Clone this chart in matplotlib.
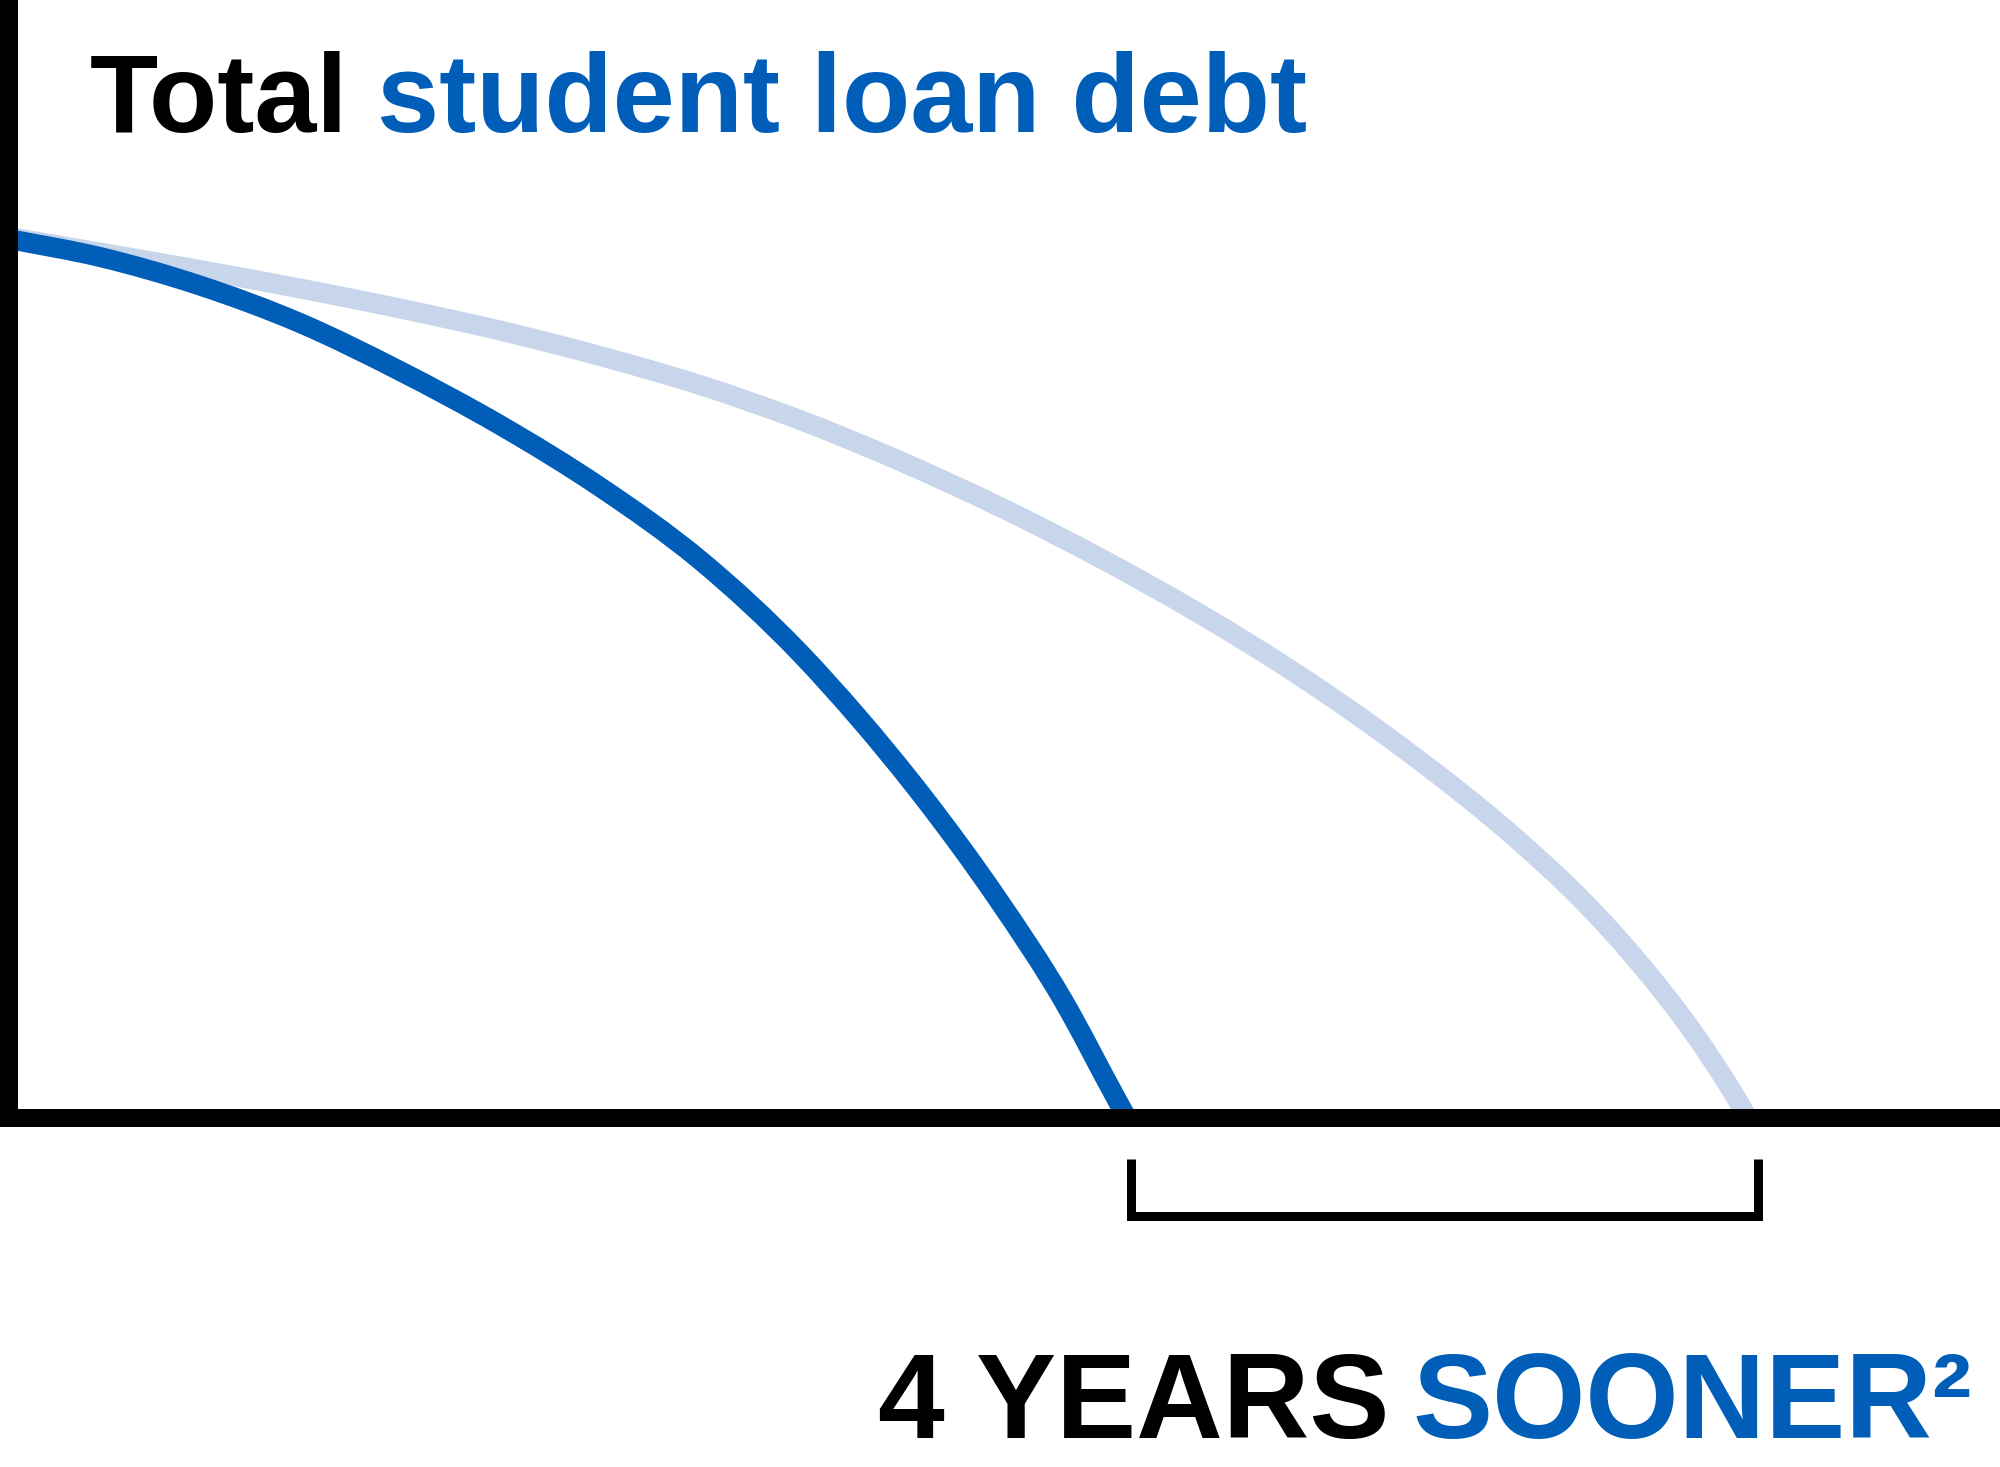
"""
Repayment chart: total student loan debt, faster payoff vs standard payoff
"""
# ###
# 1.Import packages
# ###
import matplotlib
matplotlib.use('Agg')
import matplotlib.pyplot as plt
from matplotlib.path    import Path
from matplotlib.patches import PathPatch

# ###
# 2.Const variables
# ###
# Data: years since start of repayment, debt as % of the starting balance
YEARS_FAST = [0.00, 0.578, 1.213, 1.848, 2.483, 3.117, 3.752, 4.387, 5.022,
              5.384, 5.810, 6.273, 6.692, 7.035, 7.098]
DEBT_FAST  = [100.0, 97.95, 94.70, 90.44, 84.98, 78.84, 71.79, 63.48, 52.90,
              45.73, 36.40, 25.03, 13.42, 2.05, 0.0]

YEARS_STD  = [0.00, 0.578, 1.213, 1.848, 2.483, 3.117, 3.752, 4.387, 5.022, 5.657,
              6.292, 6.927, 7.562, 8.197, 8.832, 9.594, 9.994, 10.356, 10.692, 10.978, 11.041]
DEBT_STD   = [100.23, 98.46, 96.47, 94.37, 92.09, 89.59, 86.69, 83.39, 79.41, 74.74,
              69.51, 63.71, 57.34, 50.28, 42.32, 31.40, 24.69, 17.52, 9.78, 1.93, 0.0]

# Bracket under the x-axis (the 4 year gap)
BRACKET_X = [7.127, 11.102]
BRACKET_Y = [-4.66, -11.09]

# Text
TITLE_BLACK  = 'Total'
TITLE_BLUE   = 'student loan debt'
FOOTER_BLACK = '4 YEARS'
FOOTER_BLUE  = 'SOONER\u00b2'

# Color
COLOR_BLACK = '#000000'
COLOR_BLUE  = '#005EB8'
COLOR_LIGHT = '#C7D6EB'

# Plot
PLOT_X_SIZE = 20.0
PLOT_Y_SIZE = 14.67
PLOT_DPI    = 100
LINE_WIDTH  = 14.4
FONT_FAMILY = ['Liberation Sans', 'DejaVu Sans']

# Axes range (data units)
X_MIN, X_MAX = -0.0571, 12.6413
Y_MIN, Y_MAX = -39.70, 127.19


# ###
# 3.Define functions
# ###
def smooth_path(xs, ys):
    # Cubic hermite through the read points (tangents from neighbours), as bezier segments
    n = len(xs)
    h = [xs[i + 1] - xs[i] for i in range(n - 1)]
    d = [(ys[i + 1] - ys[i]) / h[i] for i in range(n - 1)]
    m = [d[0]]
    for i in range(1, n - 1):
        m.append((d[i - 1] * h[i] + d[i] * h[i - 1]) / (h[i - 1] + h[i]))
    m.append(d[-1])

    verts = [(xs[0], ys[0])]
    codes = [Path.MOVETO]
    for i in range(n - 1):
        t = h[i] / 3.0
        verts += [(xs[i] + t, ys[i] + t * m[i]),
                  (xs[i + 1] - t, ys[i + 1] - t * m[i + 1]),
                  (xs[i + 1], ys[i + 1])]
        codes += [Path.CURVE4, Path.CURVE4, Path.CURVE4]
    return Path(verts, codes)


def draw_curve(ax, xs, ys, color, zorder):
    patch = PathPatch(smooth_path(xs, ys), facecolor='none', edgecolor=color,
                      linewidth=LINE_WIDTH, capstyle='butt', joinstyle='round', zorder=zorder)
    ax.add_patch(patch)


def draw_chart(image_name='out.png'):
    fig = plt.figure(figsize=(PLOT_X_SIZE, PLOT_Y_SIZE), dpi=PLOT_DPI, facecolor='w')
    ax = fig.add_axes([0, 0, 1, 1])
    ax.set_xlim(X_MIN, X_MAX)
    ax.set_ylim(Y_MIN, Y_MAX)
    ax.axis('off')

    # Debt curves
    draw_curve(ax, YEARS_STD,  DEBT_STD,  COLOR_LIGHT, 2)
    draw_curve(ax, YEARS_FAST, DEBT_FAST, COLOR_BLUE,  3)

    # Axis lines
    ax.plot([0, 0], [Y_MAX + 5, -1.02], color=COLOR_BLACK, linewidth=12.96,
            solid_capstyle='butt', zorder=4)
    ax.plot([X_MIN - 1, X_MAX + 1], [0, 0], color=COLOR_BLACK, linewidth=12.96,
            solid_capstyle='butt', zorder=5)

    # Bracket
    ax.plot([BRACKET_X[0], BRACKET_X[0], BRACKET_X[1], BRACKET_X[1]],
            [BRACKET_Y[0], BRACKET_Y[1], BRACKET_Y[1], BRACKET_Y[0]],
            color=COLOR_BLACK, linewidth=6.48, solid_capstyle='butt',
            solid_joinstyle='miter', zorder=4)

    # Title
    fig.text(0.045, 0.9100, TITLE_BLACK, color=COLOR_BLACK, fontsize=80.4,
             fontweight='bold', family=FONT_FAMILY, ha='left', va='baseline')
    fig.text(0.1885, 0.9100, TITLE_BLUE, color=COLOR_BLUE, fontsize=80.4,
             fontweight='bold', family=FONT_FAMILY, ha='left', va='baseline')

    # Footer
    fig.text(0.439, 0.0198, FOOTER_BLACK, color=COLOR_BLACK, fontsize=86.4,
             fontweight='bold', family=FONT_FAMILY, ha='left', va='baseline')
    fig.text(0.706, 0.0198, FOOTER_BLUE, color=COLOR_BLUE, fontsize=86.4,
             fontweight='bold', family=FONT_FAMILY, ha='left', va='baseline')

    plt.savefig(image_name, dpi=PLOT_DPI, facecolor='w')
    plt.close(fig)


# ###
# 4.Main function
# ###
def main_function():
    draw_chart('out.png')


# ###
# 5.Run main function
# ###
if __name__ == '__main__': main_function()
